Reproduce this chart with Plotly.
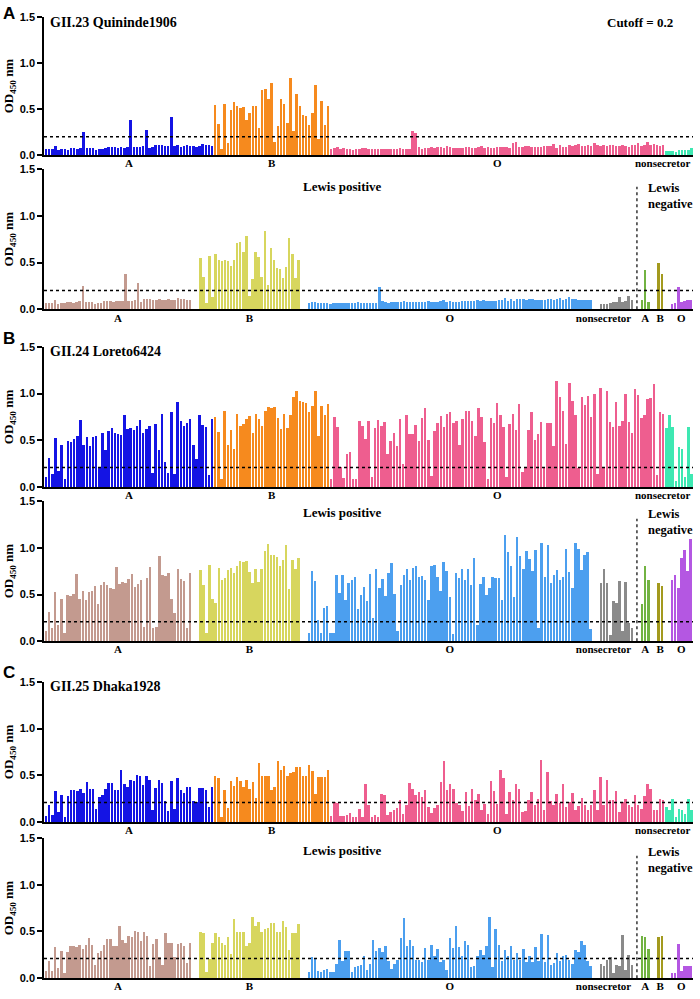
import plotly.graph_objects as go

W, H = 700, 999
SERIF = "Liberation Serif"
SANS = "Liberation Sans"

# ---------------- labels ----------------
strains = ["GII.23 Quininde1906", "GII.24 Loreto6424", "GII.25 Dhaka1928"]
panel_letters = ["A", "B", "C"]
cutoffs = [0.2, 0.21, 0.21]
top_labels = ["A", "B", "O", "nonsecretor"]
bottom_labels = ["A", "B", "O", "nonsecretor", "A", "B", "O"]
y_tick_vals = [0, 0.5, 1.0, 1.5]
y_tick_text = ["0.0", "0.5", "1.0", "1.5"]

# ---------------- colours ----------------
top_colors = ["#1414E4", "#F68A1E", "#EE5E8F", "#3EE8B2"]
bottom_colors = ["#C39A8F", "#D7D65E", "#4C9FEF", "#8A8A8A", "#72B342", "#A39A1E", "#B457E2"]

# ---------------- GII.23 Quininde1906 ----------------
gii23_A = [0.07,0.07,0.07,0.10,0.06,0.07,0.07,0.06,0.08,0.08,0.07,0.08,0.25,0.08,0.08,0.08,0.06,0.07,
           0.07,0.08,0.09,0.09,0.09,0.08,0.09,0.08,0.09,0.38,0.09,0.09,0.09,0.10,0.28,0.08,0.09,0.11,
           0.11,0.11,0.10,0.10,0.42,0.10,0.11,0.09,0.10,0.11,0.10,0.10,0.09,0.10,0.12,0.11,0.11,0.10]
gii23_B = [0.55,0.34,0.07,0.56,0.13,0.49,0.58,0.53,0.51,0.52,0.38,0.46,0.54,0.53,0.30,0.71,0.72,0.61,
           0.78,0.14,0.32,0.61,0.56,0.35,0.84,0.26,0.66,0.54,0.44,0.43,0.33,0.46,0.76,0.18,0.59,0.33,0.53]
gii23_O = [0.07,0.08,0.09,0.07,0.08,0.07,0.07,0.06,0.07,0.07,0.08,0.08,0.07,0.07,0.07,0.07,0.07,0.07,
           0.07,0.07,0.07,0.07,0.08,0.07,0.07,0.07,0.26,0.24,0.09,0.07,0.08,0.08,0.09,0.08,0.09,0.09,
           0.08,0.10,0.09,0.08,0.08,0.08,0.08,0.09,0.09,0.08,0.08,0.09,0.10,0.08,0.09,0.08,0.08,0.09,
           0.09,0.09,0.09,0.08,0.13,0.14,0.09,0.09,0.10,0.10,0.09,0.09,0.09,0.09,0.10,0.10,0.10,0.12,
           0.08,0.11,0.09,0.09,0.11,0.10,0.11,0.12,0.10,0.10,0.11,0.10,0.13,0.11,0.10,0.11,0.10,0.11,
           0.11,0.10,0.10,0.11,0.10,0.09,0.11,0.11,0.13,0.10,0.11,0.14,0.11,0.12,0.11,0.10,0.11]
gii23_ns = [0.05,0.05,0.05,0.04,0.06,0.06,0.06,0.06,0.08]

gii23_lp_A = [0.07,0.07,0.07,0.10,0.06,0.07,0.07,0.08,0.08,0.07,0.08,0.09,0.25,0.08,0.08,0.08,0.06,0.07,
              0.07,0.09,0.09,0.09,0.08,0.09,0.09,0.09,0.38,0.09,0.09,0.10,0.28,0.08,0.11,0.11,0.11,0.10,
              0.10,0.11,0.10,0.10,0.11,0.10,0.10,0.12,0.11,0.11,0.10,0.10]
gii23_lp_B = [0.55,0.34,0.07,0.57,0.13,0.59,0.53,0.52,0.53,0.52,0.46,0.53,0.71,0.72,0.61,0.78,0.14,0.32,
              0.61,0.56,0.35,0.84,0.26,0.66,0.53,0.44,0.43,0.33,0.45,0.76,0.59,0.33,0.53]
gii23_lp_O = [0.07,0.08,0.08,0.07,0.07,0.07,0.07,0.06,0.07,0.07,0.07,0.07,0.07,0.07,0.07,0.07,0.08,0.07,
              0.07,0.07,0.07,0.07,0.07,0.24,0.09,0.08,0.07,0.08,0.08,0.08,0.08,0.09,0.08,0.08,0.08,0.08,
              0.08,0.08,0.08,0.09,0.08,0.08,0.08,0.09,0.10,0.08,0.09,0.08,0.08,0.08,0.09,0.09,0.09,0.09,
              0.09,0.10,0.09,0.10,0.09,0.09,0.09,0.09,0.10,0.10,0.12,0.09,0.11,0.09,0.11,0.11,0.11,0.10,
              0.11,0.11,0.10,0.10,0.10,0.10,0.11,0.11,0.10,0.11,0.12,0.10,0.11,0.13,0.11,0.11,0.10,0.10,
              0.10,0.10,0.10]
gii23_lp_ns = [0.06,0.06,0.06,0.07,0.08,0.08,0.13,0.08,0.09,0.14,0.10]
gii23_ln_A = [0.10,0.42,0.08]
gii23_ln_B = [0.50,0.38]
gii23_ln_O = [0.06,0.07,0.24,0.08,0.09,0.10,0.10]

# ---------------- GII.24 Loreto6424 ----------------
gii24_A = [0.11,0.31,0.14,0.53,0.17,0.45,0.09,0.50,0.48,0.52,0.55,0.72,0.45,0.54,0.44,0.54,0.55,0.22,
           0.58,0.40,0.60,0.63,0.58,0.57,0.56,0.77,0.62,0.63,0.61,0.66,0.72,0.58,0.62,0.66,0.15,0.68,
           0.40,0.78,0.27,0.15,0.80,0.14,0.91,0.71,0.66,0.69,0.73,0.45,0.30,0.77,0.67,0.64,0.13,0.73]
gii24_B = [0.75,0.59,0.09,0.82,0.45,0.61,0.41,0.78,0.66,0.68,0.73,0.76,0.58,0.78,0.73,0.66,0.82,0.86,
           0.85,0.86,0.74,0.62,0.78,0.63,0.77,0.97,1.03,0.92,0.91,0.90,0.80,0.87,1.03,0.55,0.87,0.77,0.89]
gii24_O = [0.09,0.75,0.65,0.22,0.10,0.36,0.38,0.09,0.09,0.71,0.66,0.52,0.71,0.11,0.63,0.72,0.66,0.70,
           0.36,0.50,0.58,0.44,0.73,0.25,0.77,0.57,0.57,0.67,0.49,0.74,0.85,0.51,0.12,0.60,0.69,0.76,
           0.65,0.78,0.81,0.69,0.71,0.45,0.73,0.82,0.82,0.71,0.55,0.85,0.75,0.48,0.09,0.74,0.69,0.90,
           0.77,0.64,0.11,0.68,0.78,0.61,0.89,0.16,0.21,0.61,0.81,0.51,0.57,0.70,0.21,0.69,0.69,0.44,
           1.14,0.97,0.82,0.46,1.11,0.92,0.77,0.21,0.97,0.88,0.98,0.75,1.00,0.14,1.06,0.21,1.03,0.70,
           0.64,0.91,0.66,0.71,1.00,0.70,0.58,1.05,0.99,0.74,0.77,0.94,0.95,1.10,0.13,0.81,0.78]
gii24_ns = [0.63,0.77,0.64,0.07,0.43,0.41,0.11,0.64,0.14]

gii24_lp_A = [0.11,0.31,0.14,0.53,0.17,0.45,0.09,0.50,0.48,0.51,0.72,0.45,0.54,0.44,0.53,0.54,0.59,0.40,
              0.60,0.63,0.60,0.57,0.56,0.79,0.61,0.63,0.62,0.67,0.72,0.58,0.61,0.66,0.15,0.68,0.79,0.14,
              0.15,0.91,0.71,0.70,0.73,0.45,0.30,0.77,0.67,0.64,0.14,0.73]
gii24_lp_B = [0.76,0.60,0.09,0.82,0.45,0.41,0.78,0.66,0.68,0.76,0.78,0.73,0.81,0.86,0.85,0.86,0.74,0.62,
              0.77,0.63,0.77,0.97,1.04,0.92,0.92,0.90,0.80,0.87,1.03,0.56,0.87,0.77,0.89]
gii24_lp_O = [0.09,0.75,0.65,0.23,0.09,0.36,0.38,0.09,0.09,0.71,0.52,0.71,0.44,0.62,0.66,0.69,0.34,0.50,
              0.58,0.43,0.72,0.25,0.77,0.57,0.67,0.48,0.73,0.84,0.51,0.11,0.60,0.71,0.77,0.66,0.78,0.81,
              0.69,0.70,0.66,0.44,0.81,0.82,0.69,0.54,0.85,0.75,0.47,0.08,0.73,0.68,0.77,0.66,0.77,0.60,
              0.89,0.17,0.61,0.69,0.50,0.57,0.69,0.68,0.68,0.44,1.14,0.96,0.81,0.47,1.11,0.91,0.77,0.97,
              0.88,0.75,0.98,0.14,1.05,0.69,1.03,0.62,0.71,0.76,0.66,0.69,0.99,0.74,0.57,1.05,0.99,0.76,
              0.92,0.96,0.13]
gii24_lp_ns = [0.62,0.77,0.62,0.07,0.43,0.41,0.65,0.11,0.63,0.20,0.14]
gii24_ln_A = [0.40,0.81,0.66]
gii24_ln_B = [0.62,0.59]
gii24_ln_O = [0.66,0.71,0.57,0.89,0.98,0.75,1.09]

# ---------------- GII.25 Dhaka1928 ----------------
gii25_A = [0.07,0.18,0.08,0.33,0.11,0.29,0.06,0.28,0.34,0.35,0.33,0.36,0.31,0.43,0.36,0.36,0.14,0.27,
           0.29,0.36,0.42,0.42,0.35,0.35,0.56,0.41,0.38,0.45,0.44,0.51,0.49,0.40,0.50,0.45,0.13,0.37,
           0.45,0.42,0.23,0.12,0.44,0.14,0.47,0.34,0.31,0.38,0.38,0.23,0.22,0.37,0.37,0.35,0.16,0.38]
gii25_B = [0.50,0.47,0.06,0.35,0.15,0.44,0.39,0.48,0.44,0.38,0.45,0.36,0.43,0.26,0.63,0.50,0.50,0.50,
           0.35,0.38,0.66,0.56,0.60,0.50,0.53,0.54,0.59,0.59,0.50,0.50,0.61,0.55,0.30,0.48,0.48,0.48,0.56]
gii25_O = [0.07,0.22,0.21,0.07,0.07,0.08,0.10,0.06,0.06,0.14,0.06,0.41,0.18,0.06,0.08,0.06,0.30,0.29,
           0.08,0.11,0.13,0.15,0.24,0.09,0.19,0.42,0.36,0.29,0.32,0.27,0.34,0.16,0.10,0.15,0.18,0.43,
           0.66,0.34,0.41,0.36,0.21,0.18,0.12,0.32,0.17,0.36,0.24,0.30,0.13,0.20,0.09,0.44,0.33,0.20,
           0.56,0.47,0.09,0.32,0.24,0.41,0.36,0.11,0.12,0.24,0.32,0.19,0.25,0.67,0.13,0.54,0.23,0.19,
           0.30,0.21,0.41,0.16,0.22,0.31,0.13,0.17,0.26,0.19,0.13,0.18,0.34,0.13,0.48,0.19,0.45,0.24,
           0.24,0.33,0.11,0.22,0.25,0.18,0.16,0.29,0.19,0.14,0.28,0.41,0.36,0.13,0.13,0.25,0.24]
gii25_ns = [0.16,0.13,0.25,0.06,0.14,0.13,0.09,0.25,0.13]

gii25_lp_A = [0.08,0.19,0.08,0.33,0.11,0.29,0.06,0.28,0.34,0.35,0.33,0.36,0.31,0.36,0.43,0.36,0.14,0.27,
              0.29,0.36,0.42,0.42,0.35,0.35,0.56,0.41,0.38,0.45,0.44,0.51,0.49,0.40,0.50,0.45,0.13,0.37,
              0.42,0.23,0.14,0.48,0.38,0.38,0.23,0.37,0.38,0.35,0.16,0.38]
gii25_lp_B = [0.50,0.48,0.07,0.21,0.38,0.48,0.44,0.38,0.36,0.44,0.26,0.63,0.50,0.50,0.50,0.35,0.38,0.66,
              0.56,0.60,0.50,0.53,0.54,0.59,0.59,0.50,0.50,0.61,0.55,0.30,0.48,0.48,0.58]
gii25_lp_O = [0.07,0.23,0.21,0.08,0.07,0.09,0.10,0.07,0.07,0.15,0.41,0.19,0.29,0.29,0.07,0.12,0.13,0.14,
              0.24,0.09,0.15,0.41,0.29,0.32,0.28,0.34,0.18,0.10,0.15,0.20,0.43,0.65,0.34,0.41,0.35,0.20,
              0.20,0.17,0.32,0.20,0.36,0.24,0.31,0.17,0.20,0.09,0.43,0.32,0.56,0.33,0.24,0.40,0.36,0.12,
              0.13,0.24,0.30,0.25,0.34,0.66,0.12,0.53,0.36,0.18,0.30,0.24,0.35,0.20,0.27,0.20,0.31,0.17,
              0.24,0.17,0.33,0.18,0.47,0.17,0.46,0.14,0.16,0.27,0.18,0.24,0.25,0.20,0.15,0.30,0.28,0.40,
              0.36,0.18,0.13]
gii25_lp_ns = [0.15,0.13,0.20,0.23,0.06,0.14,0.13,0.46,0.09,0.25,0.14]
gii25_ln_A = [0.45,0.44,0.31]
gii25_ln_B = [0.44,0.45]
gii25_ln_O = [0.06,0.06,0.37,0.08,0.13,0.13,0.13]

top_rows = [
    [gii23_A, gii23_B, gii23_O, gii23_ns],
    [gii24_A, gii24_B, gii24_O, gii24_ns],
    [gii25_A, gii25_B, gii25_O, gii25_ns],
]
bottom_rows = [
    [gii23_lp_A, gii23_lp_B, gii23_lp_O, gii23_lp_ns, gii23_ln_A, gii23_ln_B, gii23_ln_O],
    [gii24_lp_A, gii24_lp_B, gii24_lp_O, gii24_lp_ns, gii24_ln_A, gii24_ln_B, gii24_ln_O],
    [gii25_lp_A, gii25_lp_B, gii25_lp_O, gii25_lp_ns, gii25_ln_A, gii25_ln_B, gii25_ln_O],
]

# ---------------- layout geometry (pixels) ----------------
rows_px = [(11, 151), (165, 307), (345, 487), (501, 643), (684, 826), (842, 984)]
X0_PX, X1_PX = 44, 693
BAR_W = 0.8
GAP = 2.4
NS_LABEL_HALF = 9.6


def px(x):
    return x / W


def py(y):
    return 1 - y / H


fig = go.Figure()
layout_axes = {}
shapes = []
annotations = []


def add_row(k, groups, colors, gap):
    xname = "x" if k == 1 else f"x{k}"
    yname = "y" if k == 1 else f"y{k}"
    pos = 0.0
    bounds = []
    for vals, col in zip(groups, colors):
        xs = [pos + i for i in range(len(vals))]
        fig.add_trace(go.Bar(
            x=xs, y=vals, width=BAR_W, xaxis=xname, yaxis=yname,
            marker=dict(color=col, line=dict(width=0)), showlegend=False,
        ))
        bounds.append((xs[0], xs[-1]))
        pos = xs[-1] + 1 + gap
    return bounds


def setup_axes(k, row_px, xrange, tickvals, ticktext):
    top, bot = row_px
    xkey = "xaxis" if k == 1 else f"xaxis{k}"
    ykey = "yaxis" if k == 1 else f"yaxis{k}"
    xname = "x" if k == 1 else f"x{k}"
    yname = "y" if k == 1 else f"y{k}"
    layout_axes[xkey] = dict(
        domain=[px(X0_PX), px(X1_PX)], anchor=yname, range=xrange,
        showline=True, linecolor="black", linewidth=2, ticks="",
        tickvals=tickvals, ticktext=ticktext, showgrid=False, zeroline=False,
        ticklabelstandoff=-3,
        tickfont=dict(family=SERIF, size=11, color="black", weight="bold"),
        fixedrange=True,
    )
    layout_axes[ykey] = dict(
        domain=[py(bot), py(top)], anchor=xname, range=[0, 1.5],
        tickvals=y_tick_vals, ticktext=y_tick_text, ticks="outside", ticklen=5,
        tickwidth=1.5, tickcolor="black", showline=True, linecolor="black",
        linewidth=1.5, showgrid=False, zeroline=False,
        tickfont=dict(family=SANS, size=11, color="black", weight="bold"),
        title=dict(text="OD<sub>450</sub> nm", standoff=3,
                   font=dict(family=SERIF, size=13, color="black", weight="bold")),
        fixedrange=True,
    )


for p in range(3):
    # ---- top row: all samples ----
    k = 2 * p + 1
    b = add_row(k, top_rows[p], top_colors, 0)
    centers = [(lo + hi) / 2 for lo, hi in b]
    centers[3] = b[3][1] + 0.4 - NS_LABEL_HALF
    setup_axes(k, rows_px[k - 1], [-0.65, b[-1][1] + 0.5], centers, top_labels)
    xname = "x" if k == 1 else f"x{k}"
    yname = "y" if k == 1 else f"y{k}"
    shapes.append(dict(type="line", xref=f"{xname} domain", yref=yname, x0=0, x1=1,
                       y0=cutoffs[p], y1=cutoffs[p],
                       line=dict(color="black", width=1.5, dash="dot")))

    # ---- bottom row: Lewis positive / negative ----
    k = 2 * p + 2
    b = add_row(k, bottom_rows[p], bottom_colors, GAP)
    centers = [(lo + hi) / 2 for lo, hi in b]
    centers[3] = b[3][1] + 0.4 - NS_LABEL_HALF
    setup_axes(k, rows_px[k - 1], [-0.65, b[-1][1] + 0.8], centers, bottom_labels)
    xname = f"x{k}"
    yname = f"y{k}"
    shapes.append(dict(type="line", xref=f"{xname} domain", yref=yname, x0=0, x1=1,
                       y0=cutoffs[p], y1=cutoffs[p],
                       line=dict(color="black", width=1.5, dash="dot")))
    sep = (b[3][1] + b[4][0]) / 2
    shapes.append(dict(type="line", xref=xname, yref=yname, x0=sep, x1=sep, y0=0, y1=1.31,
                       line=dict(color="black", width=1.2, dash="dot")))

# ---------------- text annotations ----------------
letter_y = [8, 337, 675]
title_y = [17, 350, 689]
lewis_pos_y = [183, 513, 855]
lewis_neg_top = [175, 505, 847]

for p in range(3):
    annotations.append(dict(text=panel_letters[p], xref="paper", yref="paper",
                            x=px(1), y=py(letter_y[p]), xanchor="left", yanchor="middle",
                            showarrow=False,
                            font=dict(family=SANS, size=17, color="black", weight="bold")))
    annotations.append(dict(text=strains[p], xref="paper", yref="paper",
                            x=px(48), y=py(title_y[p]), xanchor="left", yanchor="middle",
                            showarrow=False,
                            font=dict(family=SERIF, size=14, color="black", weight="bold")))
    annotations.append(dict(text="Lewis positive", xref="paper", yref="paper",
                            x=px(342), y=py(lewis_pos_y[p]), xanchor="center", yanchor="middle",
                            showarrow=False,
                            font=dict(family=SERIF, size=13, color="black", weight="bold")))
    annotations.append(dict(text="Lewis<br>negative", xref="paper", yref="paper",
                            x=px(646), y=py(lewis_neg_top[p]), xanchor="left", yanchor="top",
                            align="left", showarrow=False,
                            font=dict(family=SERIF, size=12.5, color="black", weight="bold")))

annotations.append(dict(text="Cutoff = 0.2", xref="paper", yref="paper",
                        x=px(640), y=py(17), xanchor="center", yanchor="middle",
                        showarrow=False,
                        font=dict(family=SERIF, size=13, color="black", weight="bold")))

fig.update_layout(
    width=W, height=H,
    margin=dict(l=0, r=0, t=0, b=0),
    paper_bgcolor="white", plot_bgcolor="white",
    barmode="overlay", bargap=0,
    showlegend=False,
    shapes=shapes, annotations=annotations,
    **layout_axes,
)

fig.write_html("out.html")
